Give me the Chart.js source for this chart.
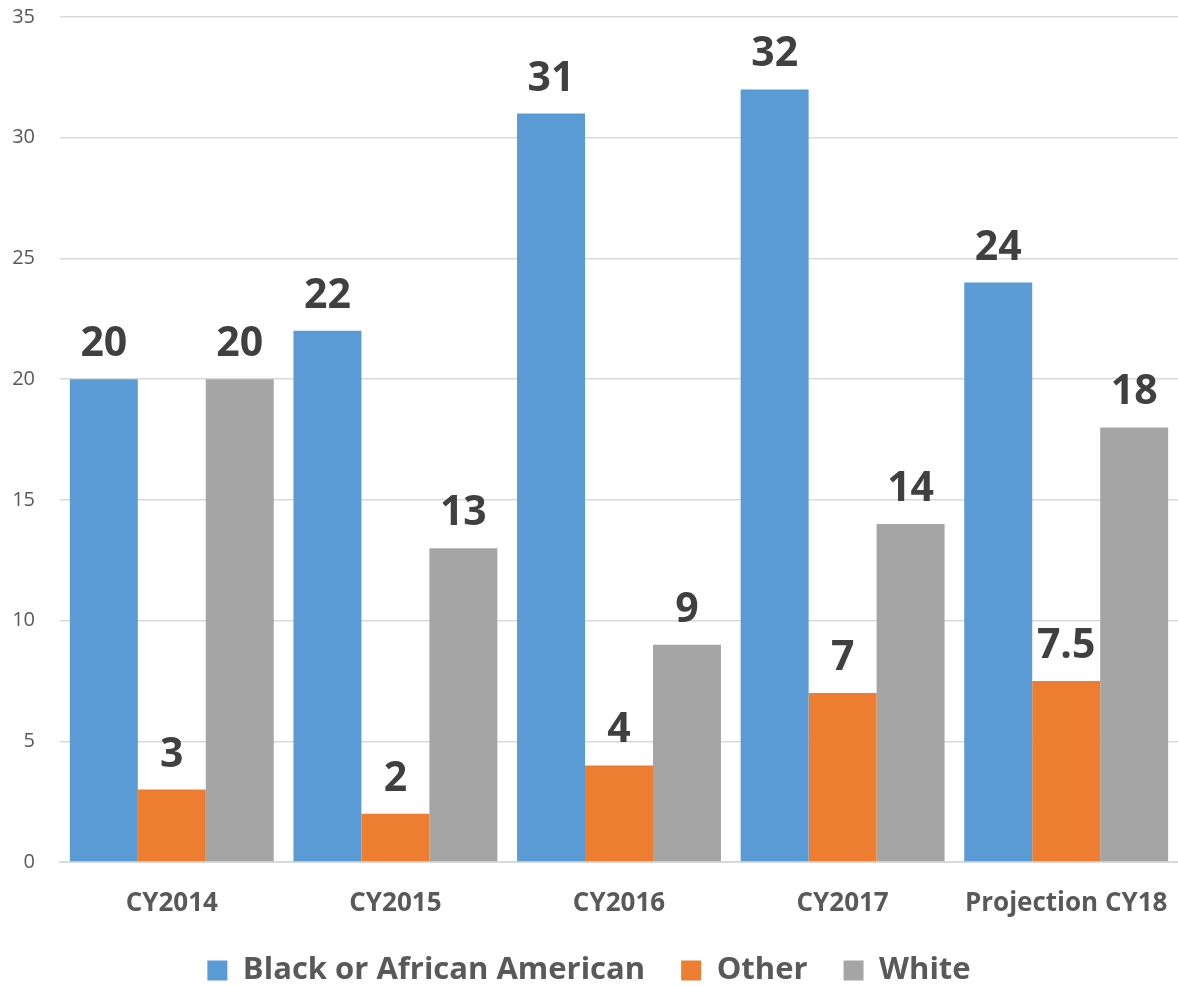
<!DOCTYPE html>
<html>
<head>
<meta charset="utf-8">
<script src="https://cdn.jsdelivr.net/npm/chart.js@4.4.1/dist/chart.umd.min.js"></script>
<style>
  html, body { margin: 0; padding: 0; background: #fff; }
  .wrap { width: 1178px; height: 986px; }
</style>
</head>
<body>
<div class="wrap"><canvas class="js-chart"></canvas></div>
<script>
const years = ['CY2014', 'CY2015', 'CY2016', 'CY2017', 'Projection CY18'];
const black = [20, 22, 31, 32, 24];
const other = [3, 2, 4, 7, 7.5];
const white = [20, 13, 9, 14, 18];
const yTicks = [0, 5, 10, 15, 20, 25, 30, 35];

const FONT = "'Open Sans', 'DejaVu Sans', sans-serif";

// writes each bar's value just above its top
const valueLabels = {
  id: 'valueLabels',
  afterDatasetsDraw(chart) {
    const { ctx } = chart;
    ctx.save();
    ctx.font = `bold 41px ${FONT}`;
    ctx.fillStyle = '#404040';
    ctx.textAlign = 'center';
    ctx.textBaseline = 'alphabetic';
    chart.data.datasets.forEach((ds, i) => {
      chart.getDatasetMeta(i).data.forEach((bar, j) => {
        ctx.fillText(String(ds.data[j]), bar.x, bar.y - 23);
      });
    });
    ctx.restore();
  },
};

function series(label, data, color) {
  return {
    label,
    data,
    backgroundColor: color,
    borderWidth: 0,
    barPercentage: 1,
    categoryPercentage: 0.912,
  };
}

new Chart(document.querySelector('.js-chart').getContext('2d'), {
  type: 'bar',
  data: {
    labels: years,
    datasets: [
      series('Black or African American', black, '#5b9bd5'),
      series('Other', other, '#ed7d31'),
      series('White', white, '#a5a5a5'),
    ],
  },
  options: {
    responsive: true,
    maintainAspectRatio: false,
    animation: false,
    layout: { padding: { top: 17, left: 0, right: 0, bottom: -10 } },
    plugins: {
      tooltip: { enabled: false },
      legend: {
        position: 'bottom',
        labels: {
          color: '#595959',
          font: { family: FONT, size: 31, weight: 'bold' },
          boxWidth: 20,
          boxHeight: 20,
          padding: 36,
        },
      },
    },
    scales: {
      x: {
        afterFit(axis) {
          axis.height = 57;
          axis.paddingLeft = 0;
          axis.paddingRight = 0;
        },
        grid: { display: false, drawTicks: false },
        border: { display: true, color: '#d9d9d9', width: 2 },
        ticks: {
          color: '#595959',
          font: { family: FONT, size: 26, weight: 'bold' },
          padding: 26,
        },
      },
      y: {
        min: 0,
        max: 35,
        afterBuildTicks(axis) {
          axis.ticks = yTicks.map(v => ({ value: v }));
        },
        afterFit(axis) {
          axis.width = 60;
          axis.paddingTop = 0;
          axis.paddingBottom = 0;
        },
        grid: { color: '#d9d9d9', lineWidth: 1.5, drawTicks: false },
        border: { display: false },
        ticks: {
          color: '#595959',
          font: { family: FONT, size: 20 },
          padding: 25,
        },
      },
    },
  },
  plugins: [valueLabels],
});
</script>
</body>
</html>
